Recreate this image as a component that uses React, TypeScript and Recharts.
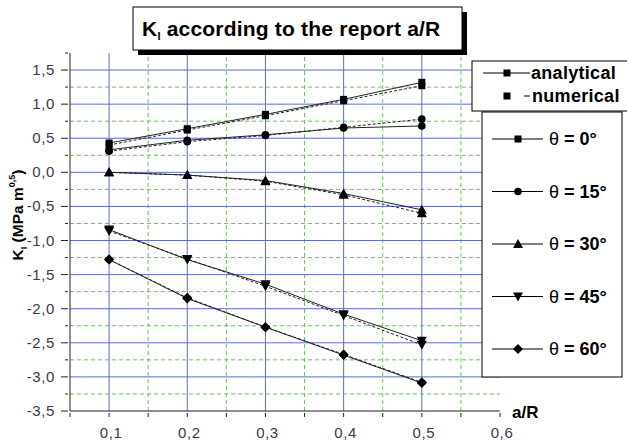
import React from 'react';
import { LineChart, Line, XAxis, YAxis, ReferenceLine } from 'recharts';

const xValues = [0.1, 0.2, 0.3, 0.4, 0.5];

const analytical0 = [0.43, 0.64, 0.85, 1.07, 1.32];
const numerical0 = [0.40, 0.62, 0.83, 1.05, 1.27];
const analytical15 = [0.33, 0.47, 0.55, 0.65, 0.68];
const numerical15 = [0.31, 0.45, 0.54, 0.66, 0.78];
const analytical30 = [0.0, -0.04, -0.12, -0.31, -0.55];
const numerical30 = [0.0, -0.04, -0.13, -0.33, -0.6];
const analytical45 = [-0.84, -1.28, -1.64, -2.08, -2.47];
const numerical45 = [-0.86, -1.27, -1.67, -2.1, -2.53];
const analytical60 = [-1.28, -1.85, -2.27, -2.68, -3.09];
const numerical60 = [-1.28, -1.84, -2.27, -2.67, -3.08];

const angleLabels = ['0°', '15°', '30°', '45°', '60°'];
const shapes = ['square', 'circle', 'triangle', 'triangleDown', 'diamond'];

const xTicks = [0.05, 0.1, 0.15, 0.2, 0.25, 0.3, 0.35, 0.4, 0.45, 0.5, 0.55, 0.6];
const xMajor = [0.1, 0.2, 0.3, 0.4, 0.5];
const xMinor = [0.15, 0.25, 0.35, 0.45, 0.55];
const yTicks = [-3.5, -3.25, -3, -2.75, -2.5, -2.25, -2, -1.75, -1.5, -1.25, -1, -0.75, -0.5, -0.25, 0, 0.25, 0.5, 0.75, 1, 1.25, 1.5, 1.75];
const yMajor = [-3, -2.5, -2, -1.5, -1, -0.5, 0, 0.5, 1, 1.5];
const yMinor = [-3.25, -2.75, -2.25, -1.75, -1.25, -0.75, -0.25, 0.25, 0.75, 1.25];

const series = [
  { a: analytical0, n: numerical0 },
  { a: analytical15, n: numerical15 },
  { a: analytical30, n: numerical30 },
  { a: analytical45, n: numerical45 },
  { a: analytical60, n: numerical60 },
];

const data = xValues.map((x, i) => {
  const row: any = { x };
  series.forEach((s, k) => {
    row['a' + k] = s.a[i];
    row['n' + k] = s.n[i];
  });
  return row;
});

const BLUE = '#5a6fc8';
const GREEN = '#62c94e';
const FONT = '"Liberation Sans", Arial, sans-serif';

function Marker({ shape, cx, cy }: { shape: string; cx: number; cy: number }) {
  switch (shape) {
    case 'square':
      return <rect x={cx - 3.5} y={cy - 3.5} width={7} height={7} fill="#000" />;
    case 'circle':
      return <circle cx={cx} cy={cy} r={3.8} fill="#000" />;
    case 'triangle':
      return <polygon points={`${cx},${cy - 5} ${cx - 5},${cy + 4} ${cx + 5},${cy + 4}`} fill="#000" />;
    case 'triangleDown':
      return <polygon points={`${cx},${cy + 5} ${cx - 5},${cy - 4} ${cx + 5},${cy - 4}`} fill="#000" />;
    default:
      return <polygon points={`${cx},${cy - 5} ${cx + 5},${cy} ${cx},${cy + 5} ${cx - 5},${cy}`} fill="#000" />;
  }
}

const renderDot = (shape: string) => (p: any) => (
  <g key={p.key ?? `${shape}-${p.index}`}>
    <Marker shape={shape} cx={p.cx} cy={p.cy} />
  </g>
);

const fmt = (v: number) => v.toFixed(1).replace('.', ',');

const YTick = ({ x, y, payload }: any) => {
  const v = payload.value;
  const major = Math.abs(v * 2 - Math.round(v * 2)) < 1e-6;
  return (
    <g>
      <line x1={x - (major ? 7 : 3)} x2={x} y1={y} y2={y} stroke="#222" />
      {major && (
        <text x={x - 13} y={y + 5} textAnchor="end" fontSize={15} letterSpacing={0.6} fill="#3a3a4c" fontFamily={FONT}>
          {fmt(v)}
        </text>
      )}
    </g>
  );
};

const XTick = ({ x, y, payload }: any) => {
  const v = payload.value;
  const major = Math.abs(v * 10 - Math.round(v * 10)) < 1e-6;
  return (
    <g>
      <line x1={x} x2={x} y1={y} y2={y + 4} stroke="#222" />
      {major && (
        <text x={x + 2} y={y + 25} textAnchor="middle" fontSize={15} letterSpacing={0.6} fill="#3a3a4c" fontFamily={FONT}>
          {fmt(v)}
        </text>
      )}
    </g>
  );
};

export default function App() {
  return (
    <div style={{ position: 'absolute', left: 0, top: 0, width: 627, height: 441, background: '#fff' }}>
      <LineChart width={627} height={441} data={data} margin={{ top: 53, right: 127, bottom: 0, left: 0 }}>
        <XAxis
          dataKey="x"
          type="number"
          domain={[0.05, 0.6]}
          ticks={xTicks}
          tick={<XTick />}
          tickLine={false}
          tickSize={0}
          height={30}
          axisLine={{ stroke: '#222' }}
          interval={0}
        />
        <YAxis
          type="number"
          domain={[-3.5, 1.75]}
          ticks={yTicks}
          tick={<YTick />}
          tickLine={false}
          tickSize={0}
          width={70}
          axisLine={{ stroke: '#222' }}
          interval={0}
        />
        {yMinor.map((v) => (
          <ReferenceLine key={'ym' + v} y={v} stroke={GREEN} strokeDasharray="4 3" />
        ))}
        {xMinor.map((v) => (
          <ReferenceLine key={'xm' + v} x={v} stroke={GREEN} strokeDasharray="4 3" />
        ))}
        {yMajor.map((v) => (
          <ReferenceLine key={'yM' + v} y={v} stroke={BLUE} />
        ))}
        {xMajor.map((v) => (
          <ReferenceLine key={'xM' + v} x={v} stroke={BLUE} />
        ))}
        {series.map((_, k) => (
          <Line
            key={'n' + k}
            dataKey={'n' + k}
            stroke="#222"
            strokeWidth={1}
            strokeDasharray="3 2"
            dot={renderDot(shapes[k])}
            isAnimationActive={false}
          />
        ))}
        {series.map((_, k) => (
          <Line
            key={'a' + k}
            dataKey={'a' + k}
            stroke="#222"
            strokeWidth={1}
            dot={renderDot(shapes[k])}
            isAnimationActive={false}
          />
        ))}
      </LineChart>
      <svg width={627} height={441} style={{ position: 'absolute', left: 0, top: 0, pointerEvents: 'none' }} fontFamily={FONT}>
        {/* title */}
        <rect x={138} y={12} width={329} height={43} fill="#000" />
        <rect x={133} y={7} width={329} height={43} fill="#fff" stroke="#000" />
        <text x={142} y={36} fontSize={21} fontWeight="bold" fill="#000" letterSpacing={0.2}>
          K<tspan dy={4} fontSize={11}>I</tspan>
          <tspan dy={-4}> according to the report a/R</tspan>
        </text>
        {/* axis titles */}
        <text transform="translate(23,215) rotate(-90)" textAnchor="middle" fontSize={15.5} fontWeight="bold" fill="#000">
          K<tspan dy={4} fontSize={9}>I</tspan>
          <tspan dy={-4}> (MPa m</tspan>
          <tspan dy={-8} fontSize={9}>0,5</tspan>
          <tspan dy={8}>)</tspan>
        </text>
        <text x={512} y={418} fontSize={17} fontWeight="bold" fill="#000">a/R</text>
        {/* legend: method */}
        <rect x={472} y={61} width={160} height={50} fill="#fff" stroke="#000" />
        <line x1={483} x2={530} y1={73} y2={73} stroke="#000" />
        <Marker shape="square" cx={507} cy={73} />
        <text x={531} y={79} fontSize={18} fontWeight="bold" fill="#000" letterSpacing={0.3}>analytical</text>
        <Marker shape="square" cx={507} cy={96} />
        <line x1={524} x2={530} y1={96} y2={96} stroke="#000" />
        <text x={532} y={102} fontSize={18} fontWeight="bold" fill="#000" letterSpacing={0.3}>numerical</text>
        {/* legend: angle */}
        <rect x={482} y={112} width={140} height={265} fill="#fff" stroke="#000" />
        {angleLabels.map((lab, k) => {
          const cy = 139 + k * 52.5;
          return (
            <g key={lab}>
              <line x1={492} x2={543} y1={cy} y2={cy} stroke="#000" />
              <Marker shape={shapes[k]} cx={518} cy={cy} />
              <text x={549} y={cy + 6} fontSize={18} fill="#000">
                θ<tspan fontWeight="bold"> = {lab}</tspan>
              </text>
            </g>
          );
        })}
      </svg>
    </div>
  );
}
